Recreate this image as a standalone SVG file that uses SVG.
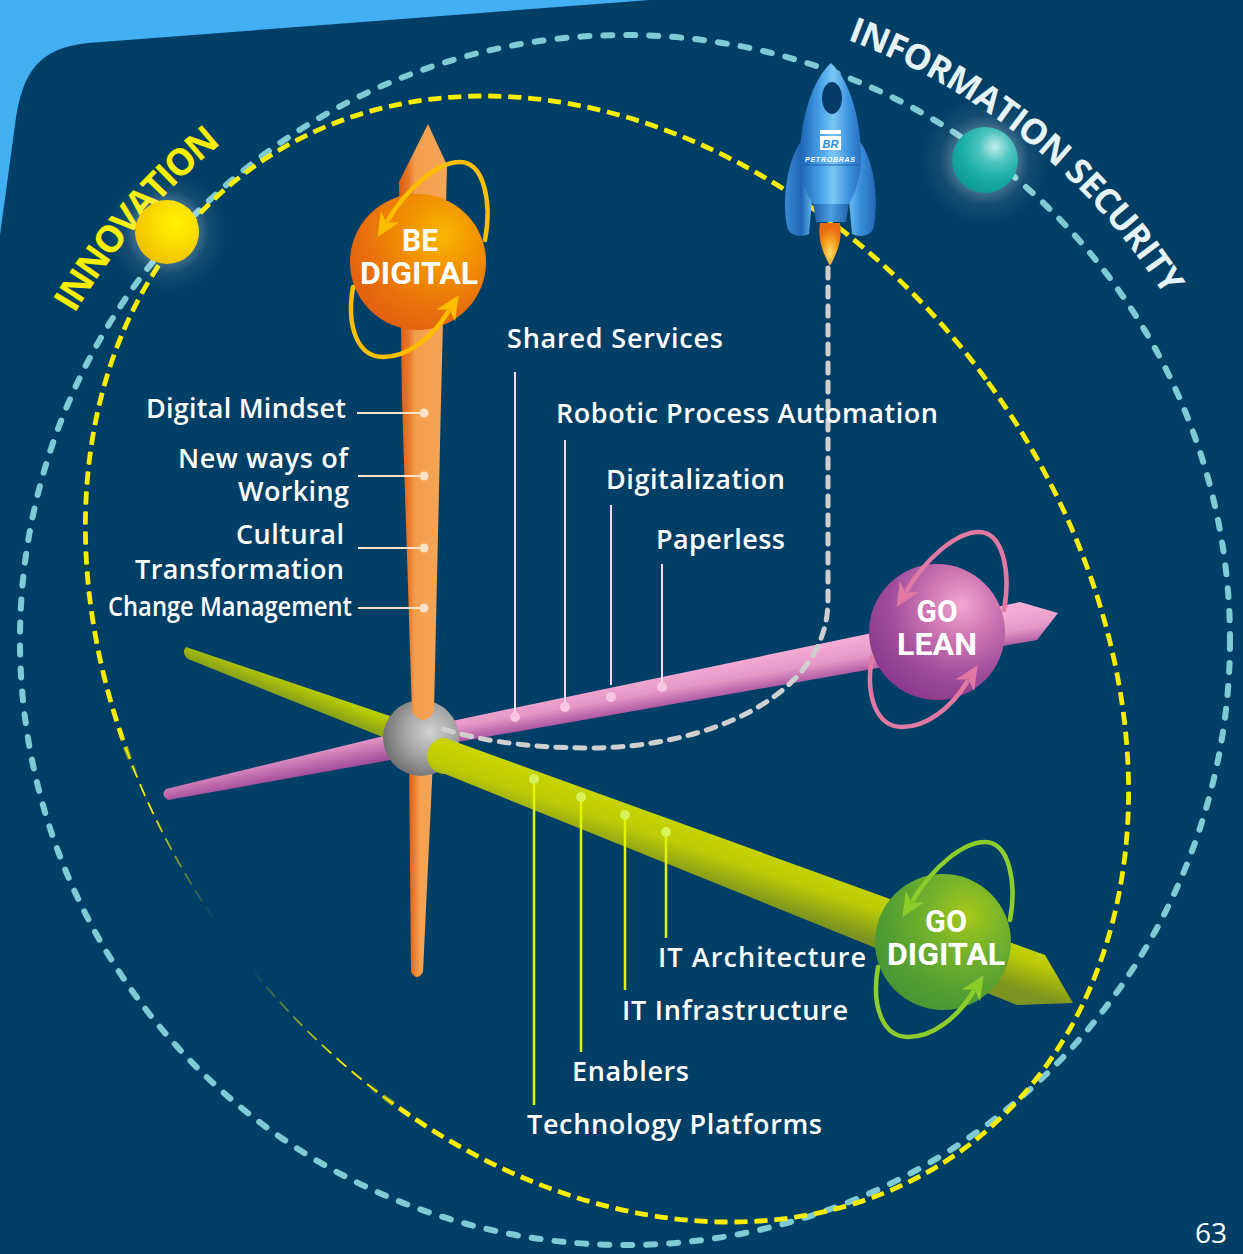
<svg xmlns="http://www.w3.org/2000/svg" width="1243" height="1254" viewBox="0 0 1243 1254">
<defs>
  <style>
    .lbl{font-family:"Open Sans","DejaVu Sans",sans-serif;font-weight:600;font-size:27px;fill:#ffffff}
    .orb{font-family:Roboto,"Liberation Sans",sans-serif;font-weight:700;font-size:32px;fill:#ffffff;text-anchor:middle}
    .arc{font-family:"Open Sans","DejaVu Sans",sans-serif;font-weight:700;text-anchor:middle}
    .ln-o{stroke:#fde3c8;stroke-width:2}
    .ln-p{stroke:#f6d9ec;stroke-width:2}
    .ln-g{stroke:#e1f400;stroke-width:2.5}
    .dot-o{fill:#fde3c8}
    .dot-p{fill:#f9c6e2}
    .dot-g{fill:#d9f25a}
  </style>

  <!-- axis shading -->
  <linearGradient id="gOrange" gradientUnits="userSpaceOnUse" x1="399" y1="0" x2="447" y2="0">
    <stop offset="0" stop-color="#dc5c12"/>
    <stop offset="0.2" stop-color="#e9772a"/>
    <stop offset="0.34" stop-color="#f49f4e"/>
    <stop offset="1" stop-color="#f6a657"/>
  </linearGradient>
  <linearGradient id="gOrangeLow" gradientUnits="userSpaceOnUse" x1="409" y1="0" x2="433" y2="0">
    <stop offset="0" stop-color="#dc5c12"/>
    <stop offset="0.3" stop-color="#f08a3a"/>
    <stop offset="0.45" stop-color="#f49f4e"/>
    <stop offset="1" stop-color="#f6a657"/>
  </linearGradient>
  <linearGradient id="gPink" gradientUnits="userSpaceOnUse" x1="697" y1="667" x2="703" y2="702">
    <stop offset="0" stop-color="#f4abd5"/>
    <stop offset="0.5" stop-color="#e597c6"/>
    <stop offset="1" stop-color="#a44d9d"/>
  </linearGradient>
  <linearGradient id="gPinkBack" gradientUnits="userSpaceOnUse" x1="280" y1="752" x2="286" y2="782">
    <stop offset="0" stop-color="#f2a6d0"/>
    <stop offset="1" stop-color="#9c4596"/>
  </linearGradient>
  <linearGradient id="gGreen" gradientUnits="userSpaceOnUse" x1="708" y1="826" x2="690" y2="880">
    <stop offset="0" stop-color="#c9d600"/>
    <stop offset="0.45" stop-color="#bccb05"/>
    <stop offset="1" stop-color="#7d9420"/>
  </linearGradient>
  <linearGradient id="gGreenBack" gradientUnits="userSpaceOnUse" x1="290" y1="680" x2="282" y2="700">
    <stop offset="0" stop-color="#b9cc00"/>
    <stop offset="1" stop-color="#7f9a20"/>
  </linearGradient>
  <radialGradient id="gHub" cx="0.62" cy="0.42" r="0.65">
    <stop offset="0" stop-color="#d2d2d2"/>
    <stop offset="0.5" stop-color="#a6a6a6"/>
    <stop offset="1" stop-color="#6e6e6e"/>
  </radialGradient>

  <!-- sphere shading -->
  <radialGradient id="gBe" cx="0.68" cy="0.3" r="0.75">
    <stop offset="0" stop-color="#f9b600"/>
    <stop offset="0.35" stop-color="#f29300"/>
    <stop offset="0.75" stop-color="#e8700d"/>
    <stop offset="1" stop-color="#e1620f"/>
  </radialGradient>
  <radialGradient id="gLean" cx="0.68" cy="0.3" r="0.75">
    <stop offset="0" stop-color="#f2a7d0"/>
    <stop offset="0.3" stop-color="#d37ab5"/>
    <stop offset="0.7" stop-color="#a14d9c"/>
    <stop offset="1" stop-color="#8c3a8c"/>
  </radialGradient>
  <radialGradient id="gGo" cx="0.68" cy="0.3" r="0.75">
    <stop offset="0" stop-color="#a8c81a"/>
    <stop offset="0.35" stop-color="#78b42a"/>
    <stop offset="0.75" stop-color="#56a032"/>
    <stop offset="1" stop-color="#4a9633"/>
  </radialGradient>
  <radialGradient id="gSun" cx="0.65" cy="0.35" r="0.7">
    <stop offset="0" stop-color="#fff400"/>
    <stop offset="0.5" stop-color="#fbdc00"/>
    <stop offset="1" stop-color="#f0c000"/>
  </radialGradient>
  <radialGradient id="gTeal" cx="0.65" cy="0.3" r="0.7">
    <stop offset="0" stop-color="#c4eeea"/>
    <stop offset="0.35" stop-color="#4cc4bf"/>
    <stop offset="0.7" stop-color="#1bada8"/>
    <stop offset="1" stop-color="#109d99"/>
  </radialGradient>
  <radialGradient id="gGlow">
    <stop offset="0.45" stop-color="#ffffff" stop-opacity="0.3"/>
    <stop offset="0.7" stop-color="#ffffff" stop-opacity="0.07"/>
    <stop offset="1" stop-color="#ffffff" stop-opacity="0"/>
  </radialGradient>

  <!-- rocket -->
  <linearGradient id="gBody" x1="0" y1="0" x2="1" y2="0">
    <stop offset="0" stop-color="#1c62b6"/>
    <stop offset="0.35" stop-color="#4aa5ea"/>
    <stop offset="0.55" stop-color="#7cc7f4"/>
    <stop offset="0.8" stop-color="#3c92de"/>
    <stop offset="1" stop-color="#2870c2"/>
  </linearGradient>
  <linearGradient id="gFinL" x1="0" y1="0" x2="1" y2="0">
    <stop offset="0" stop-color="#3a8ad6"/>
    <stop offset="0.6" stop-color="#1f64b4"/>
    <stop offset="1" stop-color="#5fb4ee"/>
  </linearGradient>
  <linearGradient id="gFinR" x1="0" y1="0" x2="1" y2="0">
    <stop offset="0" stop-color="#6cbcf0"/>
    <stop offset="0.4" stop-color="#3a90dc"/>
    <stop offset="1" stop-color="#2468b6"/>
  </linearGradient>
  <linearGradient id="gNozzle" x1="0" y1="0" x2="1" y2="0">
    <stop offset="0" stop-color="#1d5ea8"/>
    <stop offset="0.5" stop-color="#4c9fe0"/>
    <stop offset="1" stop-color="#1f62ad"/>
  </linearGradient>
  <radialGradient id="gFlame" cx="0.5" cy="0.7" r="0.6">
    <stop offset="0" stop-color="#ffe066"/>
    <stop offset="0.55" stop-color="#f6a021"/>
    <stop offset="1" stop-color="#ea6b10"/>
  </radialGradient>

  <!-- fading of the inner orbit towards the lower left -->
  <radialGradient id="holeThick" gradientUnits="userSpaceOnUse" cx="258" cy="925" r="240">
    <stop offset="0.8" stop-color="#000"/>
    <stop offset="0.98" stop-color="#fff"/>
  </radialGradient>
  <radialGradient id="holeThin" gradientUnits="userSpaceOnUse" cx="258" cy="925" r="210">
    <stop offset="0.2" stop-color="#000"/>
    <stop offset="0.75" stop-color="#fff"/>
  </radialGradient>
  <mask id="mThick" maskUnits="userSpaceOnUse" x="0" y="0" width="1243" height="1254">
    <rect width="1243" height="1254" fill="url(#holeThick)"/>
  </mask>
  <mask id="mThin" maskUnits="userSpaceOnUse" x="0" y="0" width="1243" height="1254">
    <rect width="1243" height="1254" fill="url(#holeThin)"/>
  </mask>

  <!-- circular "rotation" arrows drawn around each sphere -->
  <g id="spin">
    <path d="M67,-22 C74,-60 66,-100 42,-100 C20,-100 -10,-75 -30,-42" fill="none" stroke="currentColor" stroke-width="4.5" stroke-linecap="round"/>
    <path d="M-65,25 C-72,65 -60,95 -35,95 C-10,95 15,75 30,50" fill="none" stroke="currentColor" stroke-width="4.5" stroke-linecap="round"/>
    <polygon fill="currentColor" points="-40.4,-25 -18.6,-39.7 -31.6,-39.5 -37.3,-51.1"/>
    <polygon fill="currentColor" points="40.6,33.2 37.1,59.2 31.6,47.5 18.7,47.6"/>
  </g>

  <ellipse id="innerOrbit" cx="607" cy="659" rx="471" ry="606" transform="rotate(-36 607 659)"/>

  <path id="arcInno" d="M23.6,421.1 A642,642 0 0 1 354.5,60"/>
  <path id="arcSec" d="M790.6,21.8 A640,640 0 0 1 1205,369.5"/>
</defs>

<!-- page background -->
<rect width="1243" height="1254" fill="#42aff2"/>
<path d="M0,235 L15,125 C22,70 40,48 88,43 L650,0 L1243,0 L1243,1254 L0,1254 Z" fill="#023f66"/>

<!-- orbits -->
<g id="orbits" fill="none">
  <circle cx="625" cy="640" r="605" stroke="#7ecbd6" stroke-width="6" stroke-linecap="round" stroke-dasharray="9 14"/>
  <g mask="url(#mThin)">
    <use href="#innerOrbit" stroke="#f8ec00" stroke-width="1.8" stroke-dasharray="13 7"/>
  </g>
  <g mask="url(#mThick)">
    <use href="#innerOrbit" stroke="#f8ec00" stroke-width="4.8" stroke-dasharray="13 7"/>
  </g>
</g>

<!-- curved titles and their planets -->
<g id="innovation">
  <text class="arc" font-size="37" fill="#f5ee00"><textPath href="#arcInno" startOffset="232" textLength="226">INNOVATION</textPath></text>
  <circle cx="167" cy="232" r="60" fill="url(#gGlow)"/>
  <circle cx="167" cy="232" r="32" fill="url(#gSun)"/>
</g>
<g id="information-security">
  <text class="arc" font-size="35" font-weight="600" fill="#e6f3f6"><textPath href="#arcSec" startOffset="267" textLength="415">INFORMATION SECURITY</textPath></text>
  <circle cx="985" cy="160" r="64" fill="url(#gGlow)"/>
  <circle cx="985" cy="160" r="33" fill="url(#gTeal)"/>
</g>

<!-- three axes meeting at the hub -->
<g id="axes">
  <path d="M392,734 L166,789 Q160,795 168,800 L396,759 Z" fill="url(#gPinkBack)"/>
  <path d="M186,647 L390,716 L385,738 L188,659 Q181,653 186,647 Z" fill="url(#gGreenBack)"/>
  <path d="M409,760 L433,760 L423,972 Q417,982 411,972 Z" fill="url(#gOrangeLow)"/>
  <path d="M452,721 L1020,602 L1058,613 L1037,640 L452,743 Z" fill="url(#gPink)"/>
  <circle id="hub" cx="421" cy="738" r="38" fill="url(#gHub)"/>
  <path d="M428,124 L447,165 L441,400 L434,712 Q423,728 412,712 L402,400 L399,182 Z" fill="url(#gOrange)"/>
  <path d="M445,738 L1045,955 L1073,1003 L1017,1005 L445,774 A18,18 0 0 1 445,738 Z" fill="url(#gGreen)"/>
</g>

<!-- rocket flight path -->
<path id="flight" d="M828,268 L828,600 C828,700 700,748 590,748 C520,748 470,738 440,728" fill="none" stroke="#cfcfcf" stroke-width="5" stroke-linecap="round" stroke-dasharray="10 9"/>

<!-- label leaders -->
<g id="connectors">
  <line class="ln-o" x1="357" y1="413" x2="424" y2="413"/>
  <line class="ln-o" x1="358" y1="476" x2="424" y2="476"/>
  <line class="ln-o" x1="358" y1="548" x2="424" y2="548"/>
  <line class="ln-o" x1="358" y1="608" x2="424" y2="608"/>
  <circle class="dot-o" cx="424" cy="413" r="4.5"/>
  <circle class="dot-o" cx="424" cy="476" r="4.5"/>
  <circle class="dot-o" cx="424" cy="548" r="4.5"/>
  <circle class="dot-o" cx="424" cy="608" r="4.5"/>

  <line class="ln-p" x1="515" y1="372" x2="515" y2="717"/>
  <line class="ln-p" x1="565" y1="440" x2="565" y2="706"/>
  <line class="ln-p" x1="611" y1="505" x2="611" y2="685"/>
  <line class="ln-p" x1="662" y1="564" x2="662" y2="686"/>
  <circle class="dot-p" cx="515" cy="717" r="5"/>
  <circle class="dot-p" cx="565" cy="707" r="5"/>
  <circle class="dot-p" cx="611" cy="697" r="5"/>
  <circle class="dot-p" cx="662" cy="687" r="5"/>

  <line class="ln-g" x1="534" y1="779" x2="534" y2="1105"/>
  <line class="ln-g" x1="581" y1="797" x2="581" y2="1052"/>
  <line class="ln-g" x1="625" y1="815" x2="625" y2="990"/>
  <line class="ln-g" x1="666" y1="832" x2="666" y2="938"/>
  <circle class="dot-g" cx="534" cy="779" r="5"/>
  <circle class="dot-g" cx="581" cy="797" r="5"/>
  <circle class="dot-g" cx="625" cy="815" r="5"/>
  <circle class="dot-g" cx="666" cy="832" r="5"/>
</g>

<!-- labels -->
<g id="labels-culture">
  <text class="lbl" x="146" y="418" textLength="200">Digital Mindset</text>
  <text class="lbl" x="178" y="468" textLength="170">New ways of</text>
  <text class="lbl" x="238" y="501" textLength="111">Working</text>
  <text class="lbl" x="236" y="544" textLength="108">Cultural</text>
  <text class="lbl" x="135" y="579" textLength="209">Transformation</text>
  <text class="lbl" x="108" y="616" textLength="244" lengthAdjust="spacingAndGlyphs">Change Management</text>
</g>
<g id="labels-lean">
  <text class="lbl" x="507" y="348" textLength="216">Shared Services</text>
  <text class="lbl" x="556" y="423" textLength="382">Robotic Process Automation</text>
  <text class="lbl" x="606" y="489" textLength="179">Digitalization</text>
  <text class="lbl" x="656" y="549" textLength="129">Paperless</text>
</g>
<g id="labels-digital">
  <text class="lbl" x="658" y="967" textLength="208">IT Architecture</text>
  <text class="lbl" x="622" y="1020" textLength="226">IT Infrastructure</text>
  <text class="lbl" x="572" y="1081" textLength="117">Enablers</text>
  <text class="lbl" x="527" y="1134" textLength="295">Technology Platforms</text>
</g>

<!-- spheres -->
<g id="be-digital">
  <circle cx="418" cy="262" r="68" fill="url(#gBe)"/>
  <use href="#spin" x="418" y="262" style="color:#fbbf00"/>
  <text class="orb" x="420" y="251" textLength="36" lengthAdjust="spacingAndGlyphs">BE</text>
  <text class="orb" x="419" y="284" textLength="118" lengthAdjust="spacingAndGlyphs">DIGITAL</text>
</g>
<g id="go-lean">
  <circle cx="937" cy="632" r="68" fill="url(#gLean)"/>
  <use href="#spin" x="937" y="632" style="color:#e07aa2"/>
  <text class="orb" x="937" y="622" textLength="41" lengthAdjust="spacingAndGlyphs">GO</text>
  <text class="orb" x="937" y="655" textLength="80" lengthAdjust="spacingAndGlyphs">LEAN</text>
</g>
<g id="go-digital">
  <circle cx="943" cy="942" r="68" fill="url(#gGo)"/>
  <use href="#spin" x="943" y="942" style="color:#8ccd2c"/>
  <text class="orb" x="946" y="932" textLength="42" lengthAdjust="spacingAndGlyphs">GO</text>
  <text class="orb" x="946" y="965" textLength="118" lengthAdjust="spacingAndGlyphs">DIGITAL</text>
</g>

<!-- rocket -->
<g id="rocket">
  <path d="M820,223 C817,240 824,255 830,266 C836,255 843,240 840,223 Z" fill="url(#gFlame)"/>
  <path d="M801,142 C787,160 782,200 787,226 C789,236 800,238 809,234 L812,200 C806,185 803,165 803,145 Z" fill="url(#gFinL)"/>
  <path d="M860,142 C874,160 879,200 874,226 C872,236 861,238 852,234 L849,200 C855,185 858,165 858,145 Z" fill="url(#gFinR)"/>
  <path d="M813,203 L849,203 L846,222 L816,222 Z" fill="url(#gNozzle)"/>
  <path d="M831,63 C812,80 800,120 800,158 C800,178 806,193 813,204 L849,204 C855,193 861,178 861,158 C861,120 850,80 831,63 Z" fill="url(#gBody)"/>
  <path d="M802,165 L859,165" stroke="#1d5fa8" stroke-width="1" fill="none"/>
  <ellipse cx="832" cy="98" rx="10" ry="16" fill="#053b66"/>
  <rect x="820" y="130" width="21" height="4" fill="#ffffff"/>
  <rect x="820" y="136" width="21" height="14" fill="#ffffff"/>
  <text x="830.5" y="147.5" font-family="'Liberation Sans',sans-serif" font-weight="700" font-style="italic" font-size="11" fill="#2d8ad6" text-anchor="middle">BR</text>
  <text x="830" y="162" font-family="'Liberation Sans',sans-serif" font-weight="700" font-style="italic" font-size="7" fill="#ffffff" text-anchor="middle" textLength="50">PETROBRAS</text>
</g>

<text x="1227" y="1243" font-family="'Open Sans','DejaVu Sans',sans-serif" font-size="28" fill="#ffffff" text-anchor="end">63</text>
</svg>
